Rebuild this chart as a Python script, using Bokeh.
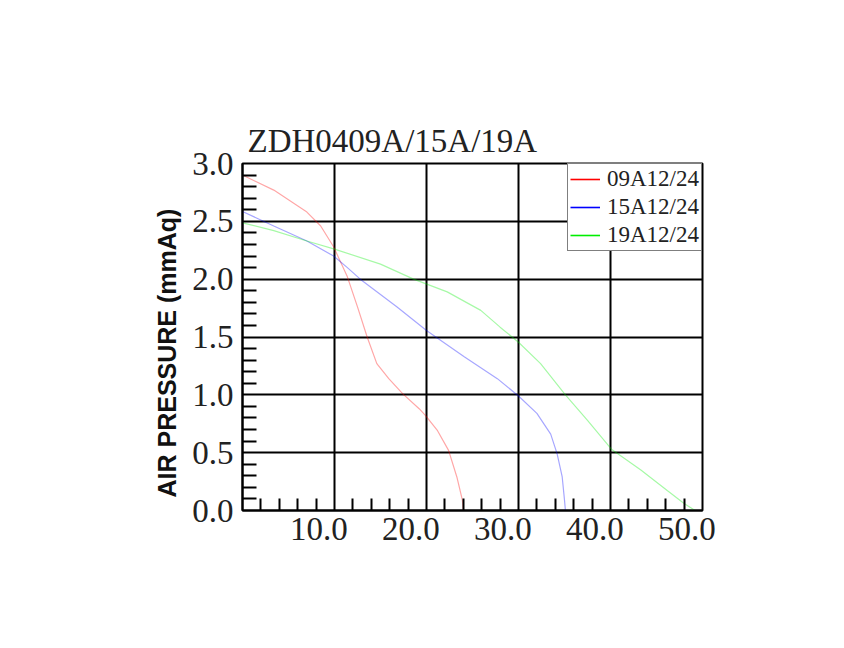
from bokeh.plotting import figure
from bokeh.models import (Range1d, FixedTicker, LinearAxis, Legend, LegendItem,
                          NumeralTickFormatter, Title)
from bokeh.embed import file_html
from bokeh.resources import INLINE

# ---- data (airflow CFM vs. pressure mmAq) ----
red_x = [0, 3.4, 7.0, 8.5, 9.9, 11.0, 11.4, 12.5, 13.55, 14.6, 15.9, 17.4, 19.2, 19.9, 21.2, 22.4, 23.3, 23.9, 24.0]
red_y = [2.90, 2.77, 2.58, 2.46, 2.28, 2.09, 2.02, 1.76, 1.50, 1.27, 1.14, 1.01, 0.88, 0.82, 0.69, 0.52, 0.29, 0.09, 0.0]

blue_x = [0, 3.4, 7.0, 9.9, 11.4, 12.8, 16.8, 20.0, 24.1, 27.7, 30.0, 32.0, 33.5, 34.2, 34.75, 35.0, 35.1]
blue_y = [2.585, 2.46, 2.33, 2.20, 2.10, 2.00, 1.76, 1.556, 1.33, 1.14, 0.99, 0.84, 0.66, 0.49, 0.29, 0.09, 0.0]

green_x = [0, 3.4, 7.0, 10.0, 15.0, 18.6, 22.25, 25.9, 28.0, 30.0, 32.4, 35.1, 37.5, 40.1, 43.3, 46.2, 48.0, 49.2]
green_y = [2.487, 2.42, 2.33, 2.26, 2.13, 2.00, 1.89, 1.73, 1.585, 1.455, 1.27, 1.00, 0.78, 0.53, 0.35, 0.17, 0.06, 0.0]

series_names = ["09A12/24", "15A12/24", "19A12/24"]
series_colors = ["#ff0000", "#0000ff", "#00ee00"]

x_major = [0, 10, 20, 30, 40, 50]
x_minor = [2, 4, 6, 8, 12, 14, 16, 18, 22, 24, 26, 28, 32, 34, 36, 38, 42, 44, 46, 48]
x_labels = [10, 20, 30, 40, 50]
y_major = [0, 0.5, 1.0, 1.5, 2.0, 2.5, 3.0]
y_minor = [0.1, 0.2, 0.3, 0.4, 0.6, 0.7, 0.8, 0.9, 1.1, 1.2, 1.3, 1.4, 1.6, 1.7, 1.8, 1.9,
           2.1, 2.2, 2.3, 2.4, 2.6, 2.7, 2.8, 2.9]

title_text = "ZDH0409A/15A/19A"
y_title = "AIR PRESSURE (mmAq)"

TXT = "#222222"
SERIF = "Liberation Serif"

p = figure(width=828, height=632, output_backend="svg", toolbar_location=None,
           x_range=Range1d(0, 50), y_range=Range1d(0, 3),
           min_border_left=242, min_border_right=126, min_border_top=163, min_border_bottom=122,
           x_axis_location=None, y_axis_location=None)

p.outline_line_color = "black"
p.outline_line_width = 2
p.background_fill_color = "white"
p.border_fill_color = "white"

# title
p.title.text = title_text
p.title.text_font = SERIF
p.title.text_font_size = "33px"
p.title.text_font_style = "normal"
p.title.text_color = TXT
p.title.align = "left"
p.title.offset = 5
p.title.standoff = 9

# y axis
yax = LinearAxis(ticker=FixedTicker(ticks=y_major, minor_ticks=y_minor),
                 formatter=NumeralTickFormatter(format="0.0"))
yax.axis_line_color = "black"
yax.axis_line_width = 2
yax.major_tick_in = 0
yax.major_tick_out = 0
yax.minor_tick_in = 14
yax.minor_tick_out = 0
yax.minor_tick_line_width = 2
yax.minor_tick_line_color = "black"
yax.major_label_text_font = SERIF
yax.major_label_text_font_size = "33px"
yax.major_label_text_color = TXT
yax.major_label_standoff = 9
p.add_layout(yax, "left")

# y axis title (starts a little above the frame's bottom, as in the original)
ytitle = Title(text=y_title, align="left", offset=13, standoff=18,
               text_font="Liberation Sans", text_font_style="bold",
               text_font_size="25px", text_color="#111111")
p.add_layout(ytitle, "left")

# x axis (minor ticks only)
xax = LinearAxis(ticker=FixedTicker(ticks=[], minor_ticks=x_minor))
xax.axis_line_color = "black"
xax.axis_line_width = 2
xax.minor_tick_in = 12
xax.minor_tick_out = 0
xax.minor_tick_line_width = 2
xax.minor_tick_line_color = "black"
p.add_layout(xax, "below")

# x labels axis (labels drawn slightly left of their gridlines, as in the original)
p.extra_x_ranges = {"lab": Range1d(1.7, 51.7)}
xlab = LinearAxis(x_range_name="lab", ticker=FixedTicker(ticks=x_labels, minor_ticks=[]),
                  formatter=NumeralTickFormatter(format="0.0"))
xlab.axis_line_color = None
xlab.major_tick_line_color = None
xlab.minor_tick_line_color = None
xlab.major_tick_in = 0
xlab.major_tick_out = 0
xlab.major_label_text_font = SERIF
xlab.major_label_text_font_size = "33px"
xlab.major_label_text_color = TXT
xlab.major_label_standoff = 7
p.add_layout(xlab, "below")

# grid
p.xgrid.ticker = FixedTicker(ticks=x_major)
p.ygrid.ticker = FixedTicker(ticks=y_major)
for g in (p.xgrid, p.ygrid):
    g.grid_line_color = "black"
    g.grid_line_width = 2
    g.grid_line_alpha = 1.0

# curves
curves = [(red_x, red_y), (blue_x, blue_y), (green_x, green_y)]
items = []
for (xs, ys), name, col in zip(curves, series_names, series_colors):
    p.line(xs, ys, line_color=col, line_width=1.2, line_alpha=0.35)
    lr = p.line(xs[:1], ys[:1], line_color=col, line_width=1.6)
    items.append(LegendItem(label=name, renderers=[lr]))

leg = Legend(items=items, location="top_right")
leg.margin = 0
leg.padding = 2
leg.spacing = 2
leg.border_line_color = "black"
leg.border_line_width = 1.5
leg.background_fill_color = "white"
leg.background_fill_alpha = 1.0
leg.glyph_width = 30
leg.glyph_height = 20
leg.label_height = 20
leg.label_standoff = 7
leg.label_text_font = SERIF
leg.label_text_font_size = "23px"
leg.label_text_color = TXT
leg.label_text_baseline = "middle"
p.add_layout(leg, "center")

open("out.html", "w").write(file_html(p, INLINE))
